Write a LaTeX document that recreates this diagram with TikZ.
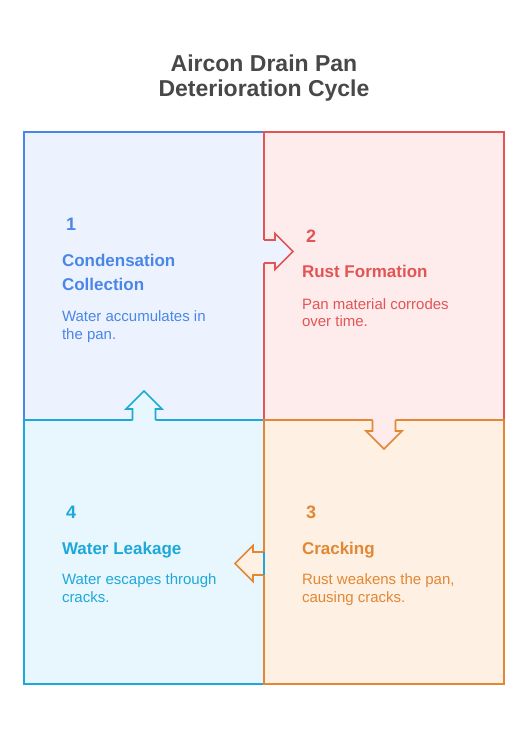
\documentclass[tikz,border=0pt]{standalone}
\usepackage{fontspec}
\setmainfont{Liberation Sans}
\usepackage{tikz}
\definecolor{cbBlue}{RGB}{74,134,232}
\definecolor{cbBlueBg}{RGB}{237,243,254}
\definecolor{cbRed}{RGB}{226,85,85}
\definecolor{cbRedBg}{RGB}{254,235,235}
\definecolor{cbOrange}{RGB}{226,135,52}
\definecolor{cbOrangeBg}{RGB}{254,240,227}
\definecolor{cbCyan}{RGB}{30,168,218}
\definecolor{cbCyanBg}{RGB}{232,247,254}
\definecolor{titleGray}{RGB}{72,72,72}

\begin{document}
\begin{tikzpicture}[x=1pt, y=-1pt, line width=1.6pt]%
  \tikzset{stage box/.style={draw, rectangle, minimum width=240pt, inner sep=0pt, outer sep=0pt},
           stage num/.style={anchor=base west, font=\fontsize{18}{18}\selectfont\bfseries},
           stage head/.style={anchor=base west, align=left, font=\fontsize{17}{24}\selectfont\bfseries},
           stage text/.style={anchor=base west, align=left, font=\fontsize{15}{17.5}\selectfont}}
  \tikzstyle{every node}=[inner sep=0pt, outer sep=0pt]

  \useasboundingbox[fill=white] (0,0) rectangle (528,732);

  \node[align=center, text=titleGray, font=\fontsize{23}{25}\selectfont\bfseries, anchor=base] (title) at (264,96.7) {Aircon Drain Pan\\Deterioration Cycle};

  % quarters
  \node[stage box, minimum height=288pt, fill=cbBlueBg, draw=cbBlue] (b1) at (144,276) {};
  \node[stage box, minimum height=288pt, fill=cbRedBg, draw=cbRed] (b2) at (384,276) {};
  \node[stage box, minimum height=264pt, fill=cbCyanBg, draw=cbCyan] (b4) at (144,552) {};
  \node[stage box, minimum height=264pt, fill=cbOrangeBg, draw=cbOrange] (b3) at (384,552) {};

  % arrow tabs between the quarters
  \fill[cbBlueBg] (263,240) -- (275,240) -- (275,233.5) -- (293,251.5) -- (275,269.5) -- (275,263) -- (263,263) -- cycle;
  \draw[cbRed] (264,240) -- (275,240) -- (275,233.5) -- (293,251.5) -- (275,269.5) -- (275,263) -- (264,263);
  \fill[cbRedBg] (372.5,419) -- (372.5,431) -- (366,431) -- (384,449) -- (402,431) -- (395.5,431) -- (395.5,419) -- cycle;
  \draw[cbOrange] (372.5,420) -- (372.5,431) -- (366,431) -- (384,449) -- (402,431) -- (395.5,431) -- (395.5,420);
  \fill[cbOrangeBg] (265,552) -- (253,552) -- (253,545.5) -- (235,563.5) -- (253,581.5) -- (253,575) -- (265,575) -- cycle;
  \draw[cbOrange] (264,552) -- (253,552) -- (253,545.5) -- (235,563.5) -- (253,581.5) -- (253,575) -- (264,575);
  \draw[cbCyan] (264,552) -- (264,575);
  \fill[cbCyanBg] (132.5,421) -- (132.5,409) -- (126,409) -- (144,391) -- (162,409) -- (155.5,409) -- (155.5,421) -- cycle;
  \draw[cbCyan] (132.5,420) -- (132.5,409) -- (126,409) -- (144,391) -- (162,409) -- (155.5,409) -- (155.5,420);

  % texts (base = last line)
  \node[stage num, text=cbBlue] (n1) at (66,230) {1};
  \node[stage head, text=cbBlue] (h1) at (62,290) {Condensation\\Collection};
  \node[stage text, text=cbBlue] (t1) at (62,339.3) {Water accumulates in\\the pan.};

  \node[stage num, text=cbRed] (n2) at (306,242.3) {2};
  \node[stage head, text=cbRed] (h2) at (302,277.7) {Rust Formation};
  \node[stage text, text=cbRed] (t2) at (302,326.7) {Pan material corrodes\\over time.};

  \node[stage num, text=cbOrange] (n3) at (306,518.3) {3};
  \node[stage head, text=cbOrange] (h3) at (302,554.3) {Cracking};
  \node[stage text, text=cbOrange] (t3) at (302,602.3) {Rust weakens the pan,\\causing cracks.};

  \node[stage num, text=cbCyan] (n4) at (66,518.3) {4};
  \node[stage head, text=cbCyan] (h4) at (62,554.3) {Water Leakage};
  \node[stage text, text=cbCyan] (t4) at (62,602.3) {Water escapes through\\cracks.};

\end{tikzpicture}
\end{document}
